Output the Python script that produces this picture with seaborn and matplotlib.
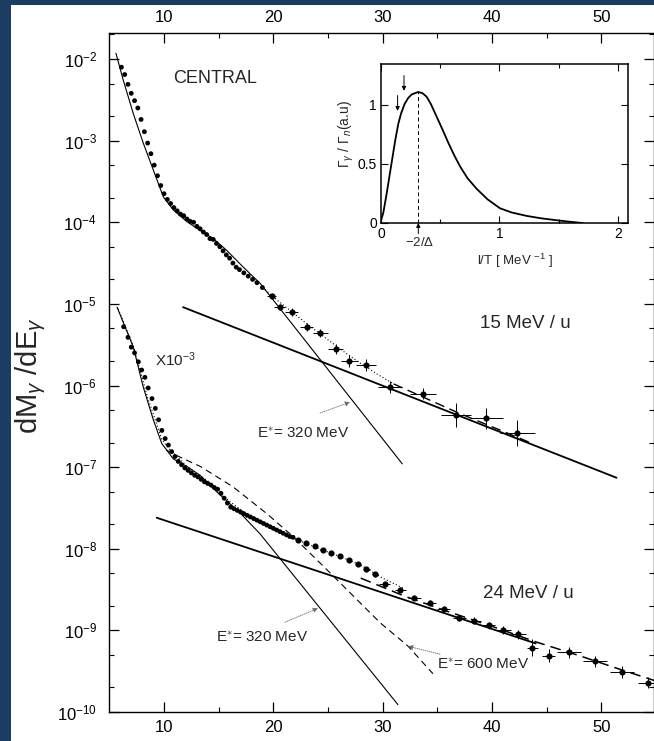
import numpy as np
import pandas as pd
import seaborn as sns
import matplotlib
matplotlib.use("Agg")
import matplotlib.pyplot as plt
from matplotlib.patches import Rectangle
from matplotlib.ticker import FixedLocator, FixedFormatter, NullFormatter

# ---------------- data ----------------
# 15 MeV/u, central collisions: photon energy (MeV) and log10(dM/dE)
e15_dense = [6.1, 6.4, 6.7, 7.0, 7.3, 7.6, 7.9, 8.2, 8.5, 8.8, 9.1, 9.4, 9.7, 10.0,
             10.3, 10.6, 10.9, 11.2, 11.5, 11.8, 12.1, 12.4, 12.7, 13.0, 13.3, 13.6,
             13.9, 14.2, 14.5, 14.8, 15.1, 15.4, 15.7, 16.0, 16.3, 16.6, 16.9, 17.3,
             17.7, 18.1, 18.5, 19.0]
log15_dense = [-2.10, -2.19, -2.31, -2.42, -2.51, -2.60, -2.74, -2.89, -3.03, -3.16,
               -3.30, -3.43, -3.55, -3.65, -3.72, -3.77, -3.82, -3.86, -3.90, -3.92,
               -3.96, -3.99, -4.00, -4.05, -4.08, -4.12, -4.15, -4.20, -4.21, -4.26,
               -4.30, -4.35, -4.40, -4.44, -4.50, -4.55, -4.58, -4.62, -4.66, -4.70,
               -4.74, -4.80]
e15_bars = [19.85, 20.6, 21.7, 23.05, 24.3, 25.7, 26.95, 28.5, 30.7, 33.7, 36.7, 39.5, 42.3]
log15_bars = [-4.90, -5.04, -5.10, -5.28, -5.36, -5.55, -5.70, -5.75, -6.02, -6.10,
              -6.36, -6.40, -6.58]
de15_bars = [0.4, 0.5, 0.6, 0.6, 0.7, 0.7, 0.8, 0.9, 1.1, 1.2, 1.4, 1.5, 1.6]
dlog15_bars = [0.03, 0.04, 0.05, 0.05, 0.05, 0.06, 0.07, 0.07, 0.07, 0.07, 0.15, 0.13, 0.16]

# 24 MeV/u (scaled by 1e-3)
e24_dense = [6.3, 6.7, 7.0, 7.3, 7.65, 7.95, 8.25, 8.55, 8.9, 9.2, 9.5, 9.8, 10.1, 10.4,
             10.7, 11.0, 11.3, 11.6, 11.9, 12.2, 12.5, 12.8, 13.1, 13.4, 13.7, 14.0,
             14.3, 14.6, 14.9, 15.2, 15.5, 15.8, 16.1, 16.4, 16.7, 17.0, 17.3, 17.6,
             17.9, 18.2, 18.5, 18.8, 19.1, 19.4, 19.7, 20.0, 20.3, 20.6, 20.9, 21.2,
             21.5, 21.8]
log24_dense = [-5.28, -5.41, -5.53, -5.60, -5.71, -5.81, -5.90, -6.03, -6.16, -6.28,
               -6.42, -6.55, -6.65, -6.73, -6.81, -6.87, -6.93, -6.97, -7.01, -7.04,
               -7.07, -7.10, -7.12, -7.15, -7.18, -7.20, -7.22, -7.25, -7.27, -7.32,
               -7.38, -7.44, -7.49, -7.51, -7.53, -7.55, -7.57, -7.59, -7.61, -7.63,
               -7.65, -7.67, -7.69, -7.71, -7.73, -7.75, -7.77, -7.79, -7.81, -7.83,
               -7.85, -7.86]
e24_bars = [22.3, 23.0, 23.8, 24.5, 25.3, 26.1, 26.9, 27.7, 28.5, 29.3,
            30.2, 31.6, 32.9, 34.3, 35.6, 37.0, 38.4, 39.7, 41.0, 42.4, 43.7, 45.2,
            47.05, 49.4, 51.9, 54.3]
log24_bars = [-7.89, -7.93, -7.97, -8.01, -8.05, -8.09, -8.14, -8.19, -8.25, -8.31,
              -8.43, -8.50, -8.60, -8.66, -8.74, -8.85, -8.88, -8.94, -9.00, -9.05,
              -9.21, -9.31, -9.27, -9.38, -9.51, -9.64]
de24_bars = [0.2, 0.2, 0.2, 0.2, 0.2, 0.2, 0.2, 0.2, 0.3, 0.3,
             0.5, 0.5, 0.6, 0.6, 0.6, 0.6, 0.6, 0.6, 0.7, 0.7, 0.5, 0.6,
             1.1, 1.1, 1.1, 0.9]
dlog24_bars = [0.02, 0.02, 0.02, 0.02, 0.02, 0.02, 0.02, 0.02, 0.03, 0.03,
               0.03, 0.03, 0.03, 0.03, 0.04, 0.04, 0.04, 0.04, 0.05, 0.05, 0.10, 0.08,
               0.07, 0.07, 0.07, 0.07]

# model curves, 15 MeV/u
stat15_e = [5.6, 6.27, 7.19, 8.1, 9.02, 9.94, 10.85, 12.07, 13.3, 14.5, 15.7, 17.25, 18.8, 31.8]
stat15_log = [-1.93, -2.26, -2.67, -3.03, -3.36, -3.69, -3.85, -3.99, -4.10, -4.20, -4.34,
              -4.55, -4.75, -6.96]
brems15_e = [11.74, 51.4]
brems15_log = [-5.04, -7.13]
sum15_dot_e = [19.0, 20.5, 22.0, 23.5, 25.0, 26.5, 28.0, 29.5, 31.0]
sum15_dot_log = [-4.80, -4.97, -5.13, -5.29, -5.44, -5.59, -5.73, -5.86, -5.98]
sum15_dash_e = [31.0, 33.0, 35.0, 37.0, 39.0, 41.0, 43.5]
sum15_dash_log = [-5.98, -6.10, -6.22, -6.34, -6.45, -6.56, -6.70]

# model curves, 24 MeV/u
stat24_e = [5.7, 7.19, 8.1, 9.02, 9.79, 10.85, 12.07, 13.3, 14.8, 16.95, 18.8, 31.4]
stat24_log = [-5.04, -5.53, -6.02, -6.42, -6.71, -6.90, -6.99, -7.10, -7.30, -7.56,
              -7.82, -9.91]
brems24_e = [9.33, 44.0]
brems24_log = [-7.62, -9.16]
sum24_dot_e = [5.8, 7.2, 8.5, 9.8, 10.5, 12.0, 14.0, 16.0, 18.0, 20.0, 22.0, 24.0,
               26.0, 28.0, 30.0, 32.0]
sum24_dot_log = [-5.06, -5.52, -6.15, -6.66, -6.78, -6.98, -7.17, -7.42, -7.62, -7.75,
                 -7.88, -7.99, -8.09, -8.20, -8.36, -8.49]
sum24_dash_e = [28.0, 32.0, 36.0, 40.0, 44.0, 48.0, 52.0, 55.0]
sum24_dash_log = [-8.36, -8.58, -8.77, -8.95, -9.14, -9.31, -9.49, -9.62]
stat600_e = [10.2, 11.5, 13.3, 16.3, 19.4, 21.8, 25.0, 29.8, 32.3, 34.6]
stat600_log = [-6.79, -6.88, -6.99, -7.24, -7.57, -7.85, -8.27, -8.91, -9.19, -9.53]

# y-axis decades and their labels
decade_exp = [-10, -9, -8, -7, -6, -5, -4, -3, -2]
decade_labels = [r"10$^{-10}$", r"10$^{-9}$", r"10$^{-8}$", r"10$^{-7}$", r"10$^{-6}$",
                 r"10$^{-5}$", r"10$^{-4}$", r"10$^{-3}$", r"10$^{-2}$"]

# inset: gamma/neutron width ratio vs inverse temperature
inv_t = [0.0, 0.02, 0.048, 0.075, 0.104, 0.12, 0.146, 0.17, 0.2, 0.23, 0.26, 0.315,
         0.35, 0.385, 0.42, 0.47, 0.52, 0.568, 0.62, 0.667, 0.73, 0.807, 0.9, 1.004,
         1.1, 1.23, 1.35, 1.51, 1.6, 1.7]
width_ratio = [0.02, 0.09, 0.25, 0.42, 0.60, 0.70, 0.84, 0.93, 1.01, 1.06, 1.09, 1.11,
               1.10, 1.07, 1.01, 0.90, 0.79, 0.68, 0.57, 0.48, 0.38, 0.29, 0.20, 0.125,
               0.09, 0.06, 0.04, 0.02, 0.01, 0.0]
peak_inv_t = 0.315
peak_ratio = 1.11

# ---------------- style ----------------
sns.set_theme(style="ticks")
plt.rcParams["font.family"] = ["Liberation Sans", "DejaVu Sans"]
plt.rcParams["mathtext.fontset"] = "custom"
plt.rcParams["mathtext.rm"] = "Liberation Sans"
plt.rcParams["mathtext.it"] = "Liberation Sans:italic"
plt.rcParams["mathtext.bf"] = "Liberation Sans:bold"
plt.rcParams["axes.linewidth"] = 1.0

W, H = 654, 741
fig = plt.figure(figsize=(W / 100, H / 100), dpi=100)
fig.patch.set_facecolor("#1b3d63")
fig.patches.append(Rectangle((11 / W, 0), 1, (H - 5) / H, transform=fig.transFigure,
                             facecolor="white", edgecolor="none", zorder=-1))

ax = fig.add_axes([109.4 / W, (H - 712) / H, (653.7 - 109.4) / W, (712 - 33) / H])
ax.set_facecolor("white")
ax.set_yscale("log")
ax.set_xlim(5, 54.8)
ax.set_ylim(1e-10, 10 ** -1.681)


def lin(e, lg):
    return np.asarray(e, float), 10 ** np.asarray(lg, float)


def curve(e, lg, **kw):
    x, y = lin(e, lg)
    sns.lineplot(x=x, y=y, ax=ax, estimator=None, sort=False, color="black", **kw)


# model curves
curve(stat15_e, stat15_log, lw=0.8)
curve(brems15_e, brems15_log, lw=1.3)
curve(sum15_dot_e, sum15_dot_log, lw=0.8, linestyle=(0, (1, 2)))
curve(sum15_dash_e, sum15_dash_log, lw=1.0, linestyle=(0, (7, 4)))
curve(stat24_e, stat24_log, lw=0.8)
curve(brems24_e, brems24_log, lw=1.3)
curve(sum24_dot_e, sum24_dot_log, lw=0.8, linestyle=(0, (1, 2)))
curve(sum24_dash_e, sum24_dash_log, lw=1.1, linestyle=(0, (7, 4)))
curve(stat600_e, stat600_log, lw=0.8, linestyle=(0, (6, 4)))

# data points
for e, lg in [(e15_dense, log15_dense), (e24_dense, log24_dense)]:
    x, y = lin(e, lg)
    sns.scatterplot(x=x, y=y, ax=ax, color="black", s=12, edgecolor="none", zorder=5)

for e, lg, de, dl in [(e15_bars, log15_bars, de15_bars, dlog15_bars),
                      (e24_bars, log24_bars, de24_bars, dlog24_bars)]:
    x, y = lin(e, lg)
    dl = np.asarray(dl)
    lg = np.asarray(lg)
    yerr = [y - 10 ** (lg - dl), 10 ** (lg + dl) - y]
    ax.errorbar(x, y, xerr=de, yerr=yerr, fmt="o", ms=3.4, color="black",
                elinewidth=0.7, capsize=0, zorder=5)

# text labels
ax.text(10.83, 10 ** -2.233, "CENTRAL", fontsize=13, va="center", ha="left")
ax.text(38.9, 10 ** -5.235, "15 MeV / u", fontsize=13.5, va="center", ha="left")
ax.text(39.19, 10 ** -8.544, "24 MeV / u", fontsize=13.5, va="center", ha="left")
ax.text(9.18, 10 ** -5.689, r"X10$^{-3}$", fontsize=11, va="center", ha="left")
ax.text(18.5, 10 ** -6.596, r"E$^{\ast}$= 320 MeV", fontsize=11, va="center", ha="left")
ax.text(14.76, 10 ** -9.096, r"E$^{\ast}$= 320 MeV", fontsize=11, va="center", ha="left")
ax.text(34.98, 10 ** -9.426, r"E$^{\ast}$= 600 MeV", fontsize=11, va="center", ha="left")

leader = dict(arrowstyle="-|>", lw=0.6, color="0.4", linestyle=(0, (1, 1.5)),
              mutation_scale=7, shrinkA=0, shrinkB=0)
for tail, head in [((24.27, -6.338), (27.02, -6.203)),
                   ((21.07, -8.90), (24.09, -8.728)),
                   ((35.25, -9.292), (32.32, -9.194))]:
    ax.annotate("", xy=(head[0], 10 ** head[1]), xytext=(tail[0], 10 ** tail[1]),
                arrowprops=leader)

# axes ticks
ax.xaxis.set_major_locator(FixedLocator([10, 20, 30, 40, 50]))
ax.xaxis.set_minor_locator(FixedLocator([15, 25, 35, 45]))
ax.yaxis.set_major_locator(FixedLocator([10.0 ** k for k in decade_exp]))
ax.yaxis.set_major_formatter(FixedFormatter(decade_labels))
ax.yaxis.set_minor_locator(FixedLocator([m * 10.0 ** k for k in decade_exp[:-1]
                                         for m in (2, 5)] + [2e-2]))
ax.yaxis.set_minor_formatter(NullFormatter())
ax.tick_params(which="both", direction="in", top=True, right=True,
               labeltop=True, labelbottom=True, color="black", labelcolor="black")
ax.tick_params(axis="x", which="major", length=7, width=0.9, labelsize=12, pad=6)
ax.tick_params(axis="x", which="minor", length=3.5, width=0.8)
ax.tick_params(axis="y", which="major", length=7, width=0.9, labelsize=12, pad=9)
ax.tick_params(axis="y", which="minor", length=3.5, width=0.8)
for s in ax.spines.values():
    s.set_color("black")
ax.set_xlabel("")
ax.set_ylabel("")
fig.text(31 / W, 1 - 376 / H, r"dM$_{\gamma}$ /dE$_{\gamma}$", rotation=90,
         ha="center", va="center", fontsize=21)

# ---------------- inset ----------------
axi = fig.add_axes([381 / W, (H - 223) / H, (628 - 381) / W, (223 - 64) / H])
axi.set_facecolor("white")
sns.lineplot(x=inv_t, y=width_ratio, ax=axi, estimator=None, sort=False,
             color="black", lw=1.3)
axi.set_xlim(0, 2.085)
axi.set_ylim(0, 1.347)
axi.plot([peak_inv_t, peak_inv_t], [0, peak_ratio], color="black", lw=0.7,
         linestyle=(0, (4, 3)))
axi.xaxis.set_major_locator(FixedLocator([0, 1, 2]))
axi.xaxis.set_minor_locator(FixedLocator([0.5, 1.5]))
axi.yaxis.set_major_locator(FixedLocator([0, 0.5, 1]))
axi.set_xticklabels(["0", "1", "2"])
axi.set_yticklabels(["0", "0.5", "1"])
axi.tick_params(which="both", direction="in", top=True, right=True, color="black",
                labelcolor="black", labelsize=10)
axi.tick_params(which="major", length=5, width=0.8, pad=3)
axi.tick_params(which="minor", length=3, width=0.8)
for s in axi.spines.values():
    s.set_color("black")
    s.set_linewidth(1.1)
axi.set_xlabel("")
axi.set_ylabel("")

small_arrow = dict(arrowstyle="-|>", lw=0.7, color="black", mutation_scale=6,
                   shrinkA=0, shrinkB=0)
axi.annotate("", xy=(0.194, 1.12), xytext=(0.194, 1.25), arrowprops=small_arrow)
axi.annotate("", xy=(0.14, 0.95), xytext=(0.14, 1.08), arrowprops=small_arrow)
axi.annotate("", xy=(peak_inv_t, 0.0), xytext=(peak_inv_t, -0.09),
             arrowprops=small_arrow, annotation_clip=False)
fig.text(420 / W, 1 - 243 / H, r"$-$2/Δ", ha="center", va="center", fontsize=9.5)
fig.text(515 / W, 1 - 261 / H, r"l/T [ MeV $^{-1}$ ]", ha="center", va="center",
         fontsize=9.5)
fig.text(346 / W, 1 - 134 / H, r"Γ$_{\gamma}$ / Γ$_{n}$(a.u)", rotation=90,
         ha="center", va="center", fontsize=10)

fig.savefig("out.png", dpi=100, facecolor=fig.get_facecolor())
